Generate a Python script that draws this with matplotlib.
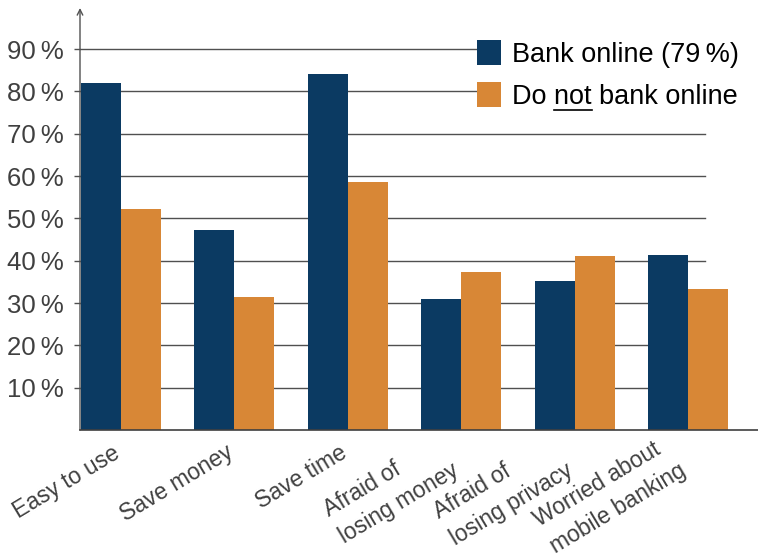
import numpy as np
import matplotlib
matplotlib.use('Agg')
import matplotlib.pyplot as plt
from matplotlib.lines import Line2D
from matplotlib.transforms import ScaledTranslation

plt.rcParams['font.family'] = ['Liberation Sans', 'DejaVu Sans']

# data
categories = ['Easy to use', 'Save money', 'Save time',
              'Afraid of\nlosing money', 'Afraid of\nlosing privacy',
              'Worried about\nmobile banking']
bank_online = [82, 47.2, 84.1, 31, 35.2, 41.3]
no_bank_online = [52.2, 31.4, 58.6, 37.3, 41.1, 33.3]
series_labels = ['Bank online (79\u2009%)', 'Do not bank online']
yticks = [10, 20, 30, 40, 50, 60, 70, 80, 90]

navy = '#0b3a62'
orange = '#d88736'
grey = '#404040'

fig = plt.figure(figsize=(7.58, 5.53), dpi=100)
ax = fig.add_axes([80 / 758, 1 - 430 / 553, 1 - 80 / 758, 422 / 553])

x = np.arange(len(categories))
w = 0.353
ax.bar(x - w / 2, bank_online, w, color=navy, zorder=3, label=series_labels[0])
ax.bar(x + w / 2, no_bank_online, w, color=orange, zorder=3, label=series_labels[1])

ax.set_xlim(-0.362, 5.617)
ax.set_ylim(0, 99.7)

# horizontal grid, stops short of the right edge
for v in yticks:
    ax.axhline(v, xmin=0, xmax=0.922, color='#505050', lw=1, zorder=1)

ax.set_yticks(yticks)
ax.set_yticklabels(['%d\u2009%%' % v for v in yticks], fontsize=18.5, color=grey)
ax.tick_params(axis='y', direction='out', length=4, width=1, color='#505050', pad=8)

ax.set_xticks(x)
ax.set_xticklabels(categories, fontsize=16.5, color=grey, rotation=31, linespacing=1.45,
                   ha='right', va='top', rotation_mode='anchor', multialignment='left')
ax.tick_params(axis='x', length=0, pad=8)
# nudge labels (pixels) so they sit like the reference
for lab in ax.get_xticklabels():
    if '\n' in lab.get_text():
        dx, dy = -26, 9
    else:
        dx, dy = -9, 0
    lab.set_transform(lab.get_transform() + ScaledTranslation(dx / 100, dy / 100, fig.dpi_scale_trans))

for s in ['top', 'right', 'left']:
    ax.spines[s].set_visible(False)
ax.spines['bottom'].set_color('#404040')
ax.spines['bottom'].set_linewidth(1.2)
ax.spines['bottom'].set_zorder(4)

# y axis with arrow
ax.annotate('', xy=(0, 1), xytext=(0, 0), xycoords='axes fraction',
            arrowprops=dict(arrowstyle='->', color='#505050', lw=1, shrinkA=0, shrinkB=0))

leg = ax.legend(loc='upper left', bbox_to_anchor=(477 / 758, 1 - 40 / 553),
                bbox_transform=fig.transFigure, fontsize=19.5,
                frameon=True, facecolor='white', edgecolor='none', framealpha=1,
                fancybox=False, borderpad=0, borderaxespad=0,
                handlelength=0.9, handleheight=1.05, handletextpad=0.4, labelspacing=0.52)
leg.set_zorder(5)

# underline "not" in the second legend entry
fig.canvas.draw()
renderer = fig.canvas.get_renderer()
t = leg.get_texts()[1]
prop = t.get_fontproperties()
bb = t.get_window_extent(renderer)
full_w, _, _ = renderer.get_text_width_height_descent(series_labels[1], prop, ismath=False)
rest_w, _, _ = renderer.get_text_width_height_descent('not bank online', prop, ismath=False)
upto_w, _, _ = renderer.get_text_width_height_descent('Do not', prop, ismath=False)
_, _, desc = renderer.get_text_width_height_descent('Do', prop, ismath=False)
x0 = bb.x0 + (full_w - rest_w)
x1 = bb.x0 + upto_w
y0 = bb.y0 + desc * 0.35
inv = fig.transFigure.inverted()
p0 = inv.transform((x0, y0))
p1 = inv.transform((x1, y0))
fig.add_artist(Line2D([p0[0], p1[0]], [p0[1], p1[1]], color='black', lw=1.2))

fig.savefig('out.png', dpi=100)
